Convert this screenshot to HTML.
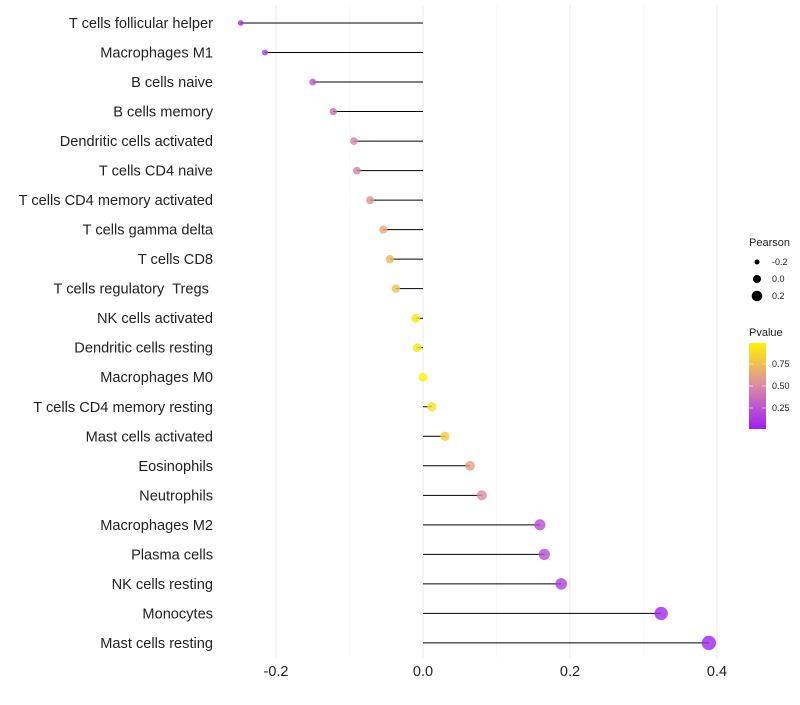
<!DOCTYPE html>
<html><head><meta charset="utf-8"><style>
body{margin:0;background:#fff;font-family:"Liberation Sans",sans-serif;}
text{white-space:pre;}
</style></head><body>
<svg id="chart" width="800" height="700" xmlns="http://www.w3.org/2000/svg"></svg>
<script>
const categories=["T cells follicular helper","Macrophages M1","B cells naive","B cells memory","Dendritic cells activated","T cells CD4 naive","T cells CD4 memory activated","T cells gamma delta","T cells CD8","T cells regulatory  Tregs ","NK cells activated","Dendritic cells resting","Macrophages M0","T cells CD4 memory resting","Mast cells activated","Eosinophils","Neutrophils","Macrophages M2","Plasma cells","NK cells resting","Monocytes","Mast cells resting"];
const pearson=[-0.248,-0.215,-0.150,-0.122,-0.094,-0.090,-0.072,-0.054,-0.045,-0.037,-0.010,-0.008,0.000,0.012,0.030,0.064,0.080,0.159,0.165,0.188,0.324,0.389];
const pvalues=[0.05,0.12,0.25,0.35,0.45,0.45,0.55,0.65,0.72,0.76,0.95,0.95,1.0,0.92,0.82,0.6,0.5,0.2,0.2,0.15,0.04,0.02];
const xTicks=[-0.2,0,0.2,0.4];
const xTickLabels=["-0.2","0.0","0.2","0.4"];
const NS="http://www.w3.org/2000/svg";
const svg=document.getElementById('chart');
const xs=v=>423+v*735;
const ys=i=>23+i*29.52;
const rs=v=>4.5+6.8*v;
function lerp(a,b,t){return a+(b-a)*t;}
const stops=[[0,[156,31,245]],[0.5,[220,138,166]],[1,[255,242,0]]];
function pcol(p){p=Math.max(0,Math.min(1,p));let a=stops[0],b=stops[1];if(p>0.5){a=stops[1];b=stops[2];}const t=(p-a[0])/(b[0]-a[0]);return `rgb(${a[1].map((c,k)=>Math.round(lerp(c,b[1][k],t))).join(',')})`;}
function mk(tag,at,parent){const e=document.createElementNS(NS,tag);for(const k in at)e.setAttribute(k,at[k]);(parent||svg).appendChild(e);return e;}
for(let i=0;i<xTicks.length;i++){
 const g=mk('line',{x1:xs(xTicks[i]),x2:xs(xTicks[i]),y1:5,y2:658,stroke:'#ebebeb','stroke-width':1});
 
 
 if(i<xTicks.length-1){
 const m=mk('line',{x1:xs(xTicks[i]+0.1),x2:xs(xTicks[i]+0.1),y1:5,y2:658,stroke:'#f4f4f4','stroke-width':0.6});
 
 
 }
 const t=mk('text',{x:xs(xTicks[i]),y:676,'text-anchor':'middle','font-size':14.5,fill:'#222'});
 t.textContent=xTickLabels[i];
 
 
}
for(let i=0;i<categories.length;i++){
 const y=ys(i);
 const l=mk('text',{x:213,y:y+5,'text-anchor':'end','font-size':14.6,fill:'#222'});
 l.textContent=categories[i];
 
 
 const s=mk('line',{x1:xs(0),x2:xs(pearson[i]),y1:y,y2:y,stroke:'#000','stroke-width':1});
 
 
 const c=mk('circle',{cx:xs(pearson[i]),cy:y,r:Math.max(1.5,rs(pearson[i])),fill:pcol(pvalues[i]),'fill-opacity':0.8});
 
 
}
</script>
<svg style="position:absolute;left:0;top:0" width="800" height="700">
<defs><linearGradient id="pg" x1="0" y1="1" x2="0" y2="0"><stop offset="0" stop-color="rgb(156,31,245)"/><stop offset="0.5" stop-color="rgb(220,138,166)"/><stop offset="1" stop-color="rgb(255,242,0)"/></linearGradient></defs>
<text x="749" y="246" font-size="11" fill="#222">Pearson</text>
<circle cx="757" cy="262" r="2.5" fill="#000"/>
<circle cx="757" cy="279" r="4" fill="#000"/>
<circle cx="757" cy="296" r="5.3" fill="#000"/>
<text x="772" y="265" font-size="9" fill="#222">-0.2</text>
<text x="772" y="282" font-size="9" fill="#222">0.0</text>
<text x="772" y="299" font-size="9" fill="#222">0.2</text>
<text x="749" y="336" font-size="11" fill="#222">Pvalue</text>
<rect x="749" y="343" width="17" height="86" fill="url(#pg)"/>
<g stroke="#fff" stroke-opacity="0.6"><line x1="749" x2="753" y1="364" y2="364"/><line x1="762" x2="766" y1="364" y2="364"/><line x1="749" x2="753" y1="386" y2="386"/><line x1="762" x2="766" y1="386" y2="386"/><line x1="749" x2="753" y1="408" y2="408"/><line x1="762" x2="766" y1="408" y2="408"/></g>
<text x="772" y="367" font-size="9" fill="#222">0.75</text>
<text x="772" y="389" font-size="9" fill="#222">0.50</text>
<text x="772" y="411" font-size="9" fill="#222">0.25</text>
</svg>
</body></html>
